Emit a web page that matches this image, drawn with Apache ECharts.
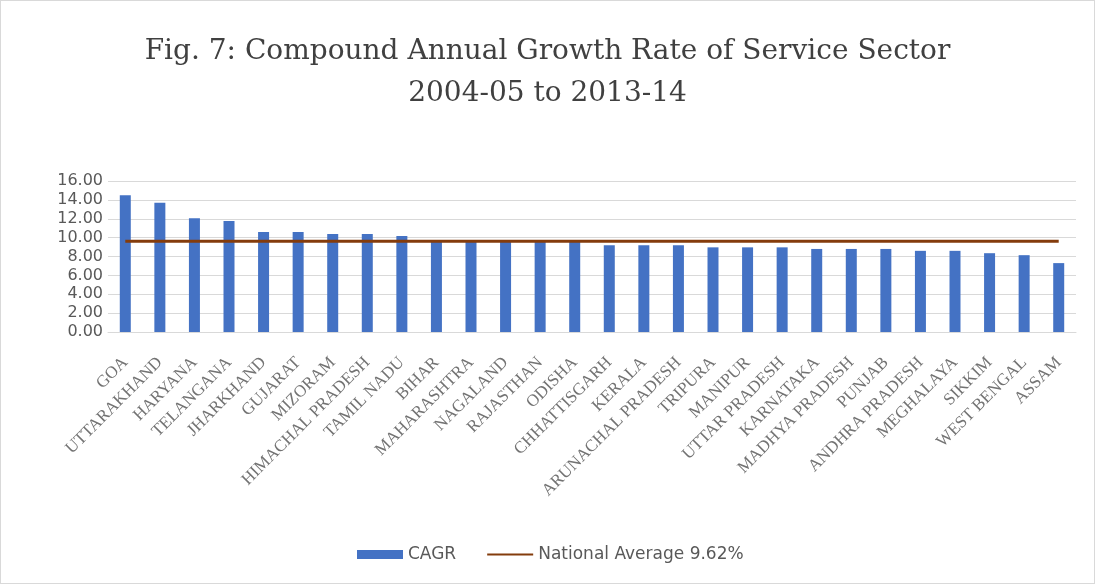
<!DOCTYPE html>
<html>
<head>
<meta charset="utf-8">
<title>CAGR of Service Sector</title>
<script src="https://cdn.jsdelivr.net/npm/echarts@6/dist/echarts.min.js"></script>
<style>
  html, body { margin: 0; padding: 0; background: #fff; }
  #frame { width: 1095px; height: 584px; box-sizing: border-box; border: 1px solid #d9d9d9; }
  #chart { width: 100%; height: 100%; }
</style>
</head>
<body>
<div id="frame"><div id="chart"></div></div>
<script>
// States, ordered by compound annual growth rate of the service sector
const states = [
  'GOA', 'UTTARAKHAND', 'HARYANA', 'TELANGANA', 'JHARKHAND', 'GUJARAT', 'MIZORAM',
  'HIMACHAL PRADESH', 'TAMIL NADU', 'BIHAR', 'MAHARASHTRA', 'NAGALAND', 'RAJASTHAN',
  'ODISHA', 'CHHATTISGARH', 'KERALA', 'ARUNACHAL PRADESH', 'TRIPURA', 'MANIPUR',
  'UTTAR PRADESH', 'KARNATAKA', 'MADHYA PRADESH', 'PUNJAB', 'ANDHRA PRADESH',
  'MEGHALAYA', 'SIKKIM', 'WEST BENGAL', 'ASSAM'
];

// CAGR (%) 2004-05 to 2013-14
const cagr = [
  14.50, 13.70, 12.05, 11.77, 10.59, 10.59, 10.38,
  10.38, 10.17, 9.70, 9.65, 9.60, 9.58,
  9.55, 9.18, 9.18, 9.18, 8.97, 8.97,
  8.97, 8.80, 8.80, 8.80, 8.60,
  8.60, 8.35, 8.14, 7.30
];

const nationalAverageValue = 9.62;
const nationalAverage = states.map(() => nationalAverageValue);

const yTicks = { min: 0, max: 16, interval: 2 };

const chart = echarts.init(document.getElementById('chart'));

chart.setOption({
  animation: false,
  backgroundColor: '#ffffff',
  title: {
    text: 'Fig. 7: Compound Annual Growth Rate of Service Sector\n2004-05 to 2013-14',
    left: 'center',
    top: 25,
    textStyle: {
      fontFamily: 'DejaVu Serif',
      fontSize: 28,
      fontWeight: 'normal',
      color: '#404040',
      lineHeight: 42
    }
  },
  legend: {
    top: 540,
    left: 351,
    itemGap: 30,
    itemWidth: 46,
    itemHeight: 9,
    textStyle: {
      fontFamily: 'DejaVu Sans',
      fontSize: 17,
      color: '#595959'
    },
    data: [
      { name: 'CAGR', icon: 'rect' },
      { name: 'National Average 9.62%', itemStyle: { opacity: 0 } }
    ]
  },
  grid: {
    left: 107,
    right: 18,
    top: 180,
    bottom: 251,
    containLabel: false
  },
  xAxis: {
    type: 'category',
    data: states,
    boundaryGap: true,
    axisTick: { show: false },
    axisLine: { lineStyle: { color: '#d9d9d9', width: 1 } },
    axisLabel: {
      interval: 0,
      rotate: 45,
      margin: 28,
      fontFamily: 'Liberation Serif',
      fontSize: 17,
      color: '#737373'
    }
  },
  yAxis: {
    type: 'value',
    min: yTicks.min,
    max: yTicks.max,
    interval: yTicks.interval,
    axisLine: { show: false },
    axisTick: { show: false },
    splitLine: { lineStyle: { color: '#d9d9d9', width: 1 } },
    axisLabel: {
      formatter: v => v.toFixed(2),
      margin: 5,
      fontFamily: 'DejaVu Sans',
      fontSize: 16,
      color: '#595959'
    }
  },
  series: [
    {
      name: 'CAGR',
      type: 'bar',
      data: cagr,
      barWidth: 11,
      itemStyle: { color: '#4472c4' },
      z: 2
    },
    {
      name: 'National Average 9.62%',
      type: 'line',
      data: nationalAverage,
      symbol: 'none',
      lineStyle: { color: '#843c0c', width: 3 },
      itemStyle: { color: '#843c0c' },
      z: 3
    }
  ]
});
</script>
</body>
</html>
